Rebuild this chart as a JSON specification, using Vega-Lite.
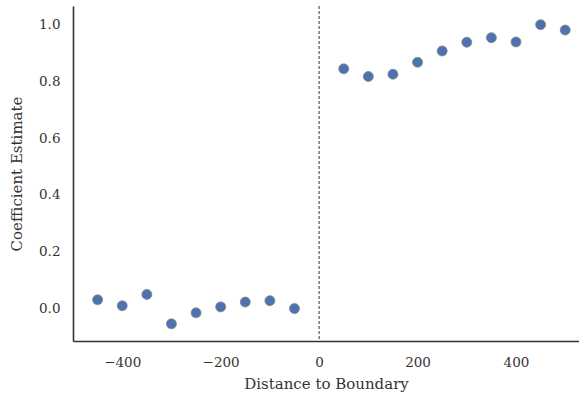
{
  "$schema": "https://vega.github.io/schema/vega-lite/v6.json",
  "width": 506,
  "height": 335,
  "autosize": "none",
  "padding": {"left": 73, "top": 6, "right": 0, "bottom": 58},
  "background": "white",
  "config": {
    "view": {"stroke": null},
    "font": "DejaVu Serif",
    "axis": {
      "grid": false,
      "ticks": false,
      "domainColor": "#333333",
      "domainWidth": 1.6,
      "labelFont": "DejaVu Serif",
      "labelFontSize": 13.5,
      "labelColor": "#333333",
      "titleFont": "DejaVu Serif",
      "titleFontSize": 15,
      "titleFontWeight": "normal",
      "titleColor": "#333333"
    }
  },
  "data": {
    "values": [
      {"distance": -450, "estimate": 0.029},
      {"distance": -400, "estimate": 0.008},
      {"distance": -350, "estimate": 0.048},
      {"distance": -300, "estimate": -0.056},
      {"distance": -250, "estimate": -0.017},
      {"distance": -200, "estimate": 0.004},
      {"distance": -150, "estimate": 0.021},
      {"distance": -100, "estimate": 0.026},
      {"distance": -50, "estimate": -0.002},
      {"distance": 50, "estimate": 0.845},
      {"distance": 100, "estimate": 0.818},
      {"distance": 150, "estimate": 0.826},
      {"distance": 200, "estimate": 0.868},
      {"distance": 250, "estimate": 0.908},
      {"distance": 300, "estimate": 0.939},
      {"distance": 350, "estimate": 0.955},
      {"distance": 400, "estimate": 0.940},
      {"distance": 450, "estimate": 1.001},
      {"distance": 500, "estimate": 0.982}
    ]
  },
  "layer": [
    {
      "data": {"values": [{"x": 0}]},
      "mark": {"type": "rule", "color": "#555555", "strokeWidth": 1.2, "strokeDash": [3, 2]},
      "encoding": {
        "x": {"field": "x", "type": "quantitative"}
      }
    },
    {
      "mark": {"type": "point", "filled": true, "size": 100, "color": "#4c72b0", "opacity": 1, "stroke": "#888888", "strokeWidth": 0.8},
      "encoding": {
        "x": {
          "field": "distance",
          "type": "quantitative",
          "scale": {"domain": [-500, 528], "nice": false, "zero": false},
          "axis": {"values": [-400, -200, 0, 200, 400], "title": "Distance to Boundary", "titlePadding": 8, "labelPadding": 14, "format": "d"}
        },
        "y": {
          "field": "estimate",
          "type": "quantitative",
          "scale": {"domain": [-0.1165, 1.067], "nice": false, "zero": false},
          "axis": {"values": [0, 0.2, 0.4, 0.6, 0.8, 1.0], "format": ".1f", "title": "Coefficient Estimate", "labelPadding": 13, "titlePadding": 14}
        }
      }
    }
  ]
}
